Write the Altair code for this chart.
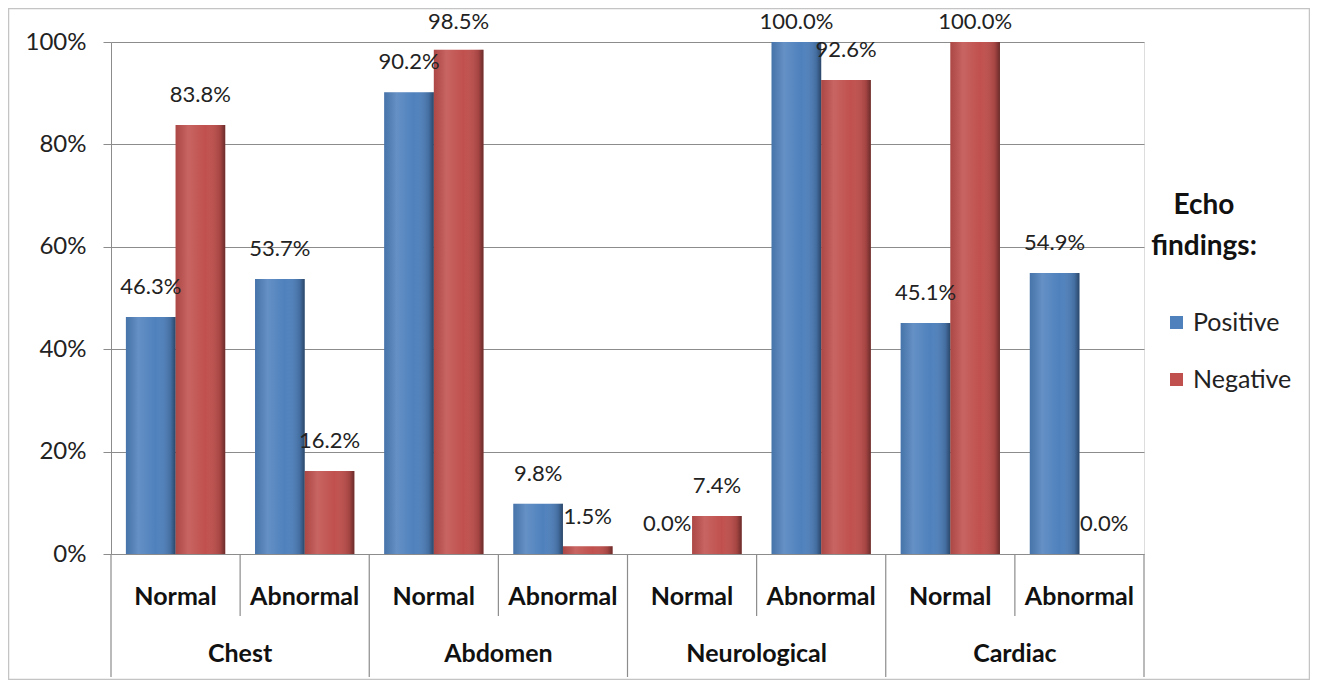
import altair as alt
import pandas as pd

regions = ["Chest", "Chest", "Abdomen", "Abdomen", "Neurological", "Neurological", "Cardiac", "Cardiac"]
findings = ["Normal", "Abnormal", "Normal", "Abnormal", "Normal", "Abnormal", "Normal", "Abnormal"]
positive = [0.463, 0.537, 0.902, 0.098, 0.0, 1.0, 0.451, 0.549]
negative = [0.838, 0.162, 0.985, 0.015, 0.074, 0.926, 1.0, 0.0]
series = ["Positive", "Negative"]
colors = ["#4F81BD", "#C0504D"]
y_ticks = [0, 0.2, 0.4, 0.6, 0.8, 1.0]
legend_title = ["Echo", "findings:"]

FONT = "Lato"
W, H = 1033, 512

slots = [f"{r}|{f}" for r, f in zip(regions, findings)]
rows = []
for s, r, f, p, n in zip(slots, regions, findings, positive, negative):
    rows.append(dict(slot=s, region=r, finding=f, series="Positive", value=p))
    rows.append(dict(slot=s, region=r, finding=f, series="Negative", value=n))
df = pd.DataFrame(rows)
slot_df = pd.DataFrame(dict(slot=slots, region=regions, finding=findings))

x_enc = alt.X("slot:N", sort=slots,
              scale=alt.Scale(paddingInner=0, paddingOuter=0),
              axis=alt.Axis(title=None, labels=False, ticks=False, domain=False, grid=False))
xo_enc = alt.XOffset("series:N", sort=series,
                     scale=alt.Scale(domain=series, paddingInner=0, paddingOuter=0.3))
y_enc = alt.Y("value:Q", scale=alt.Scale(domain=[0, 1], nice=False),
              axis=alt.Axis(values=y_ticks, format=".0%", title=None, grid=True,
                            gridColor="#8c8c8c", domainColor="#8c8c8c", tickColor="#8c8c8c",
                            tickSize=8, labelFontSize=24, labelPadding=17, labelColor="#222222",
                            labelFont=FONT))

base = alt.Chart(df)

bars = base.mark_bar().encode(
    x=x_enc, xOffset=xo_enc, y=y_enc,
    color=alt.Color("series:N", sort=series,
                    scale=alt.Scale(domain=series, range=colors),
                    legend=alt.Legend(orient="none", legendX=1053, legendY=268,
                                      title=None, labelFontSize=25, labelFont=FONT,
                                      labelColor="#222222", symbolType="square",
                                      symbolSize=170, symbolStrokeWidth=0,
                                      rowPadding=31, labelOffset=4)),
)

shade = base.mark_bar(fill=alt.LinearGradient(
    gradient="linear", x1=0, x2=1, y1=0, y2=0,
    stops=[alt.GradientStop(offset=0, color="rgba(0,0,0,0.10)"),
           alt.GradientStop(offset=0.25, color="rgba(255,255,255,0.12)"),
           alt.GradientStop(offset=0.6, color="rgba(255,255,255,0.0)"),
           alt.GradientStop(offset=0.9, color="rgba(0,0,0,0.15)"),
           alt.GradientStop(offset=1, color="rgba(0,0,0,0.45)")])).encode(
    x=alt.X("slot:N", sort=slots), xOffset=alt.XOffset("series:N", sort=series), y="value:Q")

labels = base.transform_calculate(
    lbl="min(datum.value + 0.058, 1.04)"
).mark_text(fontSize=22, font=FONT, color="#222222", baseline="middle").encode(
    x=alt.X("slot:N", sort=slots), xOffset=alt.XOffset("series:N", sort=series),
    y="lbl:Q", text=alt.Text("value:Q", format=".1%"))

slot_base = alt.Chart(slot_df)

sub_labels = slot_base.mark_text(fontSize=25, font=FONT, fontWeight="bold", color="#111111",
                                 baseline="middle").encode(
    x=alt.X("slot:N", sort=slots), y=alt.value(H + 43), text="finding:N")

group_labels = slot_base.mark_text(fontSize=25, font=FONT, fontWeight="bold", color="#111111",
                                   baseline="middle").transform_filter(
    alt.datum.finding == "Normal").encode(
    x=alt.X("slot:N", sort=slots, bandPosition=1), y=alt.value(H + 100), text="region:N")

long_rules = slot_base.mark_rule(color="#8c8c8c", strokeWidth=1.2).transform_filter(
    alt.datum.finding == "Normal").encode(
    x=alt.X("slot:N", sort=slots, bandPosition=0), y=alt.value(H), y2=alt.value(H + 123))

short_rules = slot_base.mark_rule(color="#8c8c8c", strokeWidth=1.2).transform_filter(
    alt.datum.finding == "Abnormal").encode(
    x=alt.X("slot:N", sort=slots, bandPosition=0), y=alt.value(H), y2=alt.value(H + 62))

end_rule = slot_base.mark_rule(color="#8c8c8c", strokeWidth=1.2).transform_filter(
    alt.datum.slot == slots[-1]).encode(
    x=alt.X("slot:N", sort=slots, bandPosition=1), y=alt.value(H), y2=alt.value(H + 123))

one = alt.Chart(pd.DataFrame({"a": [0]}))

legend_head = one.mark_text(text=legend_title, fontSize=28, font=FONT, fontWeight="bold",
                            color="#111111", align="center", baseline="top",
                            lineHeight=41).encode(x=alt.value(1093), y=alt.value(150))

frame = one.mark_rect(
    fill="white", fillOpacity=0, stroke="#c4c4c4", strokeWidth=1.5).encode(
    x=alt.value(-102.5), x2=alt.value(1198.5), y=alt.value(-33.5), y2=alt.value(637.5))

chart = alt.layer(
    bars, shade, labels, sub_labels, group_labels, long_rules, short_rules, end_rule,
    legend_head, frame
).properties(
    width=W, height=H,
    autosize=alt.AutoSizeParams(type="none"),
    padding={"left": 103, "top": 34, "right": 166, "bottom": 126},
).configure_view(stroke=None).configure(font=FONT, background="white")

chart.save("out.html", embed_options={"renderer": "svg", "actions": False})
